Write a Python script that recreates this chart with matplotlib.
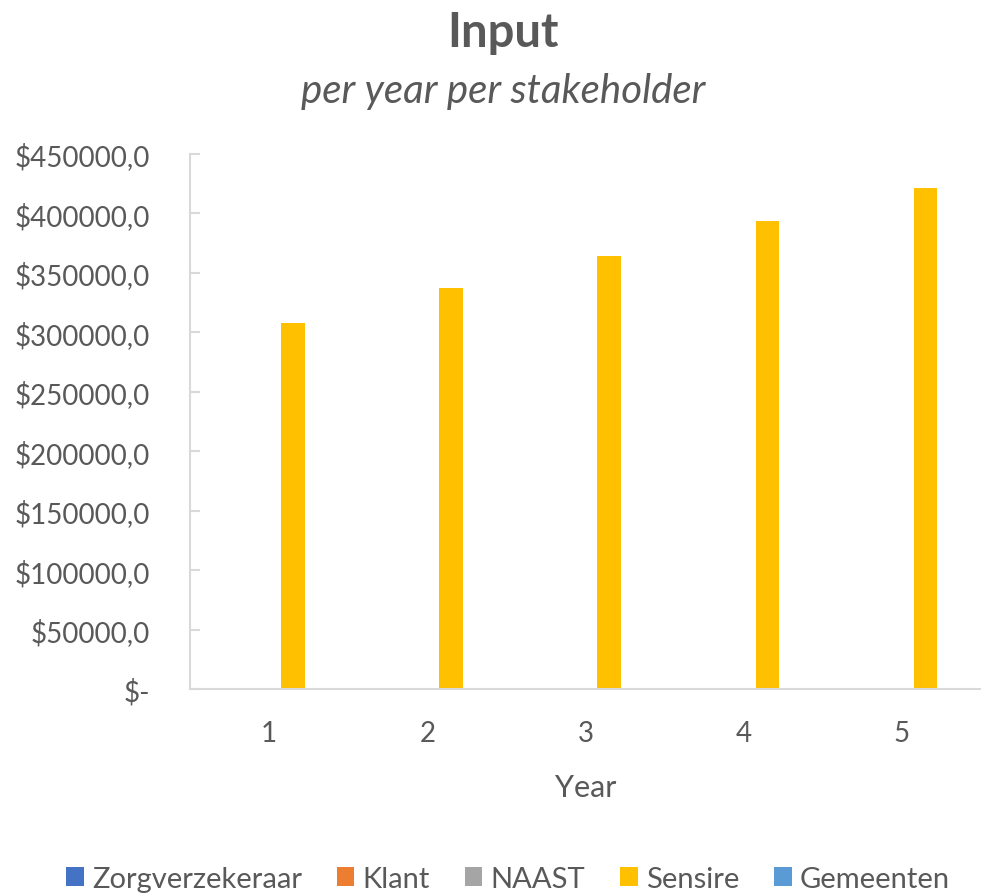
import matplotlib
matplotlib.use("Agg")
import matplotlib.pyplot as plt
from matplotlib.ticker import FuncFormatter, MultipleLocator
import numpy as np

plt.rcParams['font.family'] = ['Lato', 'DejaVu Sans']

years = [1, 2, 3, 4, 5]
stakeholders = ["Zorgverzekeraar", "Klant", "NAAST", "Sensire", "Gemeenten"]
colors = ["#4472C4", "#ED7D31", "#A5A5A5", "#FFC000", "#5B9BD5"]

zorgverzekeraar = [0, 0, 0, 0, 0]
klant = [0, 0, 0, 0, 0]
naast = [0, 0, 0, 0, 0]
sensire = [308000, 337000, 364500, 394000, 421000]
gemeenten = [0, 0, 0, 0, 0]
series = [zorgverzekeraar, klant, naast, sensire, gemeenten]

text_color = "#595959"
axis_color = "#D9D9D9"

fig = plt.figure(figsize=(9.81, 8.95), dpi=100)
ax = fig.add_axes([190 / 981, 1 - 690 / 895, 1 - 190 / 981, (690 - 155) / 895])

x = np.arange(len(years))
w = 0.15
for i, (name, vals, c) in enumerate(zip(stakeholders, series, colors)):
    ax.bar(x + (i - 2) * w, vals, width=w, color=c, label=name)

ax.set_xlim(-0.5, len(years) - 0.5)
ax.set_ylim(0, 450000)
ax.set_xticks(x)
ax.set_xticklabels([str(y) for y in years])
ax.yaxis.set_major_locator(MultipleLocator(50000))


def money(v, pos):
    if abs(v) < 1e-9:
        return "$-"
    return "${:.1f}".format(v).replace(".", ",")


ax.yaxis.set_major_formatter(FuncFormatter(money))

for side in ("top", "right"):
    ax.spines[side].set_visible(False)
for side in ("left", "bottom"):
    ax.spines[side].set_color(axis_color)
    ax.spines[side].set_linewidth(1.5)

ax.tick_params(axis="y", direction="in", length=7, width=1.5, color=axis_color,
               labelsize=20, labelcolor=text_color, pad=29)
ax.tick_params(axis="x", length=0, labelsize=20, labelcolor=text_color, pad=22)

ax.set_xlabel("Year", fontsize=22, color=text_color, labelpad=20)

fig.text(503 / 981, 1 - 33 / 895, "Input", ha="center", va="center",
         fontsize=34, fontweight="bold", color=text_color)
fig.text(503 / 981, 1 - 91 / 895, "per year per stakeholder", ha="center", va="center",
         fontsize=29, style="italic", color=text_color)

fig.legend(loc="center", bbox_to_anchor=(508 / 981, 1 - 880 / 895), ncol=5,
           frameon=False, fontsize=21, labelcolor=text_color,
           handlelength=0.6, handleheight=0.6, handletextpad=0.28, columnspacing=1.2)

fig.savefig("out.png", dpi=100, facecolor="white")
